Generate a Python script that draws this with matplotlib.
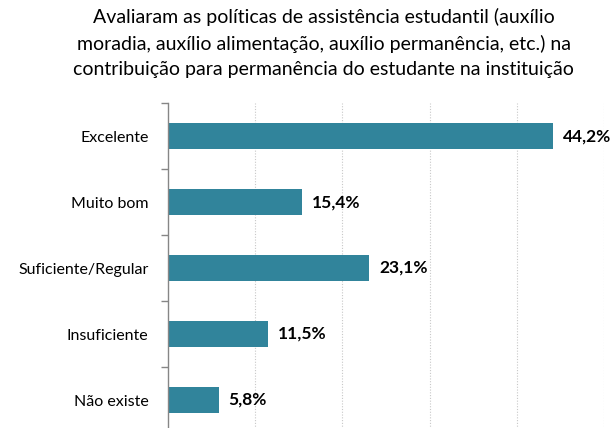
import numpy as np
import matplotlib.pyplot as plt

categories = ["Excelente", "Muito bom", "Suficiente/Regular", "Insuficiente", "Não existe"]
values = [44.2, 15.4, 23.1, 11.5, 5.8]
labels = ["44,2%", "15,4%", "23,1%", "11,5%", "5,8%"]
title = ("Avaliaram as políticas de assistência estudantil (auxílio\n"
         "moradia, auxílio alimentação, auxílio permanência, etc.) na\n"
         "contribuição para permanência do estudante na instituição")

plt.rcParams['font.family'] = ['Lato', 'DejaVu Sans']

fig = plt.figure(figsize=(6.14, 4.28), dpi=100)
ax = fig.add_axes([0.2736, -0.0117, 0.7101, 0.7710])

y = np.arange(len(categories))
ax.barh(y, values, height=0.4, color='#31849B')
for yi, v, lab in zip(y, values, labels):
    ax.text(v + 1.1, yi, lab, va='center', ha='left',
            fontsize=12.5, fontweight='bold', color='black')

ax.set_xlim(0, 50)
ax.set_ylim(len(categories) - 0.5, -0.5)
ax.set_xticks([10, 20, 30, 40, 50])
ax.xaxis.grid(True, linestyle=(0, (1, 1.5)), color='#c8c8c8', linewidth=0.8)
ax.set_axisbelow(True)
ax.tick_params(axis='x', length=0, labelbottom=False)

ax.set_yticks(y)
ax.set_yticklabels(categories, fontsize=11.5)
ax.set_yticks(np.arange(-0.5, len(categories), 1), minor=True)
ax.tick_params(axis='y', which='major', length=0, pad=14)
ax.tick_params(axis='y', which='minor', length=5, color='#868686', width=1)

for s in ['top', 'right', 'bottom']:
    ax.spines[s].set_visible(False)
ax.spines['left'].set_color('#868686')
ax.spines['left'].set_linewidth(1)

fig.text(0.527, 0.982, title, ha='center', va='top', fontsize=14,
         linespacing=1.58)

fig.savefig('out.png', dpi=100)
